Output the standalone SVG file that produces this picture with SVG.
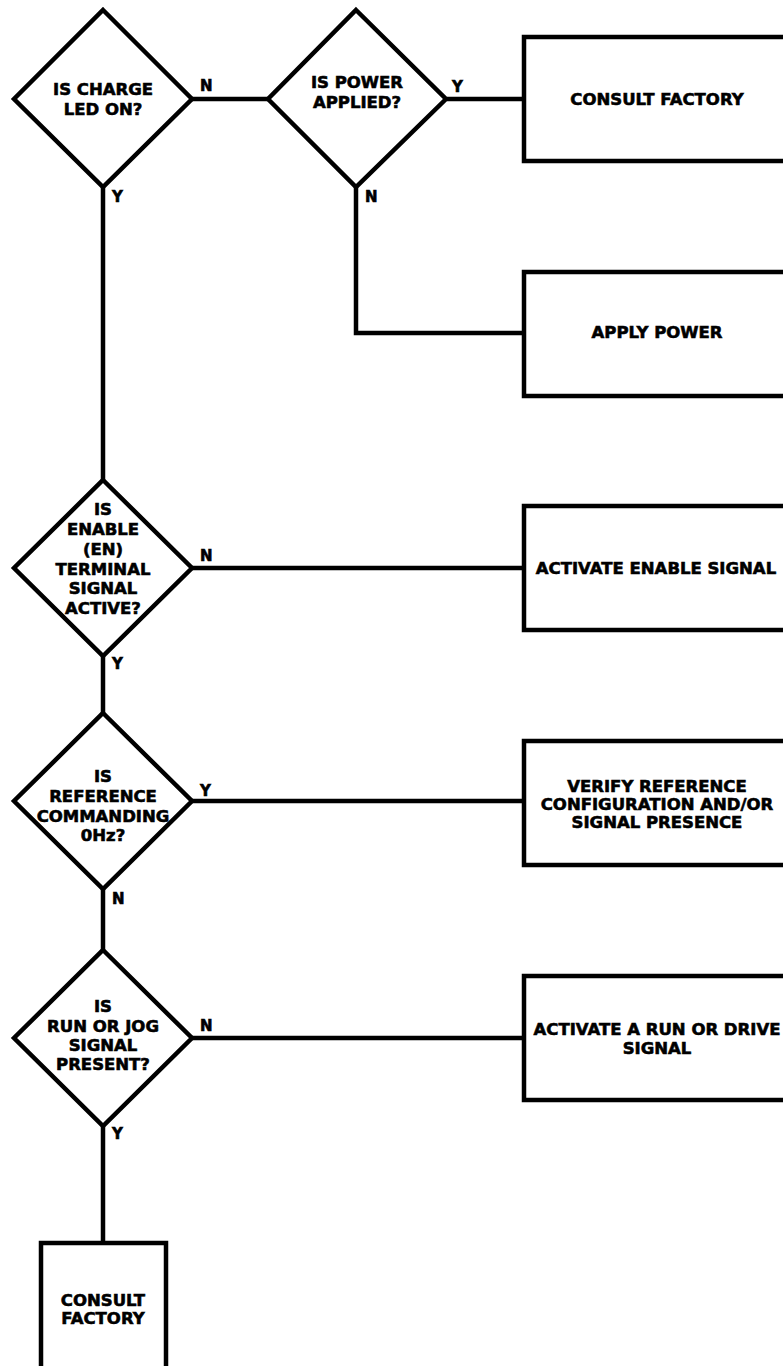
<svg xmlns="http://www.w3.org/2000/svg" width="783" height="1366" viewBox="0 0 783 1366">
<style>
.shape{fill:#fff;stroke:#000;stroke-width:4.5;stroke-linejoin:miter}
.conn{fill:none;stroke:#000;stroke-width:4.5}
.t{font-family:"DejaVu Sans","Liberation Sans",sans-serif;font-weight:bold;font-size:16.5px;fill:#000;stroke:#000;stroke-width:0.6;text-anchor:middle}
.lbl{font-family:"DejaVu Sans","Liberation Sans",sans-serif;font-weight:bold;font-size:15px;fill:#000;stroke:#000;stroke-width:0.6}
</style>
<rect width="783" height="1366" fill="#fff"/>
<g id="connectors">
<line class="conn" x1="192" y1="99" x2="268" y2="99"/>
<line class="conn" x1="447" y1="99" x2="524" y2="99"/>
<polyline class="conn" points="356,187 356,333 524,333"/>
<line class="conn" x1="103" y1="187" x2="103" y2="480"/>
<line class="conn" x1="192" y1="568" x2="524" y2="568"/>
<line class="conn" x1="103" y1="656" x2="103" y2="713"/>
<line class="conn" x1="192" y1="801" x2="524" y2="801"/>
<line class="conn" x1="103" y1="889" x2="103" y2="950"/>
<line class="conn" x1="192" y1="1038" x2="524" y2="1038"/>
<line class="conn" x1="103" y1="1126" x2="103" y2="1243"/>
<text class="lbl" x="200" y="91">N</text>
<text class="lbl" x="112" y="202">Y</text>
<text class="lbl" x="452" y="92">Y</text>
<text class="lbl" x="365" y="202">N</text>
<text class="lbl" x="200" y="561">N</text>
<text class="lbl" x="112" y="669">Y</text>
<text class="lbl" x="200" y="796">Y</text>
<text class="lbl" x="112" y="904">N</text>
<text class="lbl" x="200" y="1031">N</text>
<text class="lbl" x="112" y="1139">Y</text>
</g>
<g id="d1">
<polygon class="shape" points="103,10 192,99 103,187 14,99"/>
<text class="t" x="103" y="95">IS CHARGE</text>
<text class="t" x="103" y="115">LED ON?</text>
</g>
<g id="d2">
<polygon class="shape" points="356,10 446,99 356,187 268,99"/>
<text class="t" x="357" y="88">IS POWER</text>
<text class="t" x="357" y="108">APPLIED?</text>
</g>
<g id="b1">
<rect class="shape" x="524" y="37" width="270" height="124"/>
<text class="t" x="657" y="105">CONSULT FACTORY</text>
</g>
<g id="b2">
<rect class="shape" x="524" y="272" width="270" height="124"/>
<text class="t" x="657" y="338">APPLY POWER</text>
</g>
<g id="d3">
<polygon class="shape" points="103,480 192,568 103,656 14,568"/>
<text class="t" x="103" y="515">IS</text>
<text class="t" x="103" y="535">ENABLE</text>
<text class="t" x="103" y="555">(EN)</text>
<text class="t" x="103" y="575">TERMINAL</text>
<text class="t" x="103" y="594">SIGNAL</text>
<text class="t" x="103" y="614">ACTIVE?</text>
</g>
<g id="b3">
<rect class="shape" x="524" y="506" width="270" height="124"/>
<text class="t" x="656" y="574">ACTIVATE ENABLE SIGNAL</text>
</g>
<g id="d4">
<polygon class="shape" points="103,713 192,801 103,889 14,801"/>
<text class="t" x="103" y="782">IS</text>
<text class="t" x="103" y="802">REFERENCE</text>
<text class="t" x="103" y="822">COMMANDING</text>
<text class="t" x="103" y="841">0Hz?</text>
</g>
<g id="b4">
<rect class="shape" x="524" y="741" width="270" height="124"/>
<text class="t" x="657" y="792">VERIFY REFERENCE</text>
<text class="t" x="657" y="810">CONFIGURATION AND/OR</text>
<text class="t" x="657" y="828">SIGNAL PRESENCE</text>
</g>
<g id="d5">
<polygon class="shape" points="103,950 192,1038 103,1126 14,1038"/>
<text class="t" x="103" y="1012">IS</text>
<text class="t" x="103" y="1032">RUN OR JOG</text>
<text class="t" x="103" y="1051">SIGNAL</text>
<text class="t" x="103" y="1070">PRESENT?</text>
</g>
<g id="b5">
<rect class="shape" x="524" y="976" width="270" height="124"/>
<text class="t" x="657" y="1035">ACTIVATE A RUN OR DRIVE</text>
<text class="t" x="657" y="1054">SIGNAL</text>
</g>
<g id="b6">
<rect class="shape" x="41" y="1243" width="125" height="140"/>
<text class="t" x="103" y="1306">CONSULT</text>
<text class="t" x="103" y="1324">FACTORY</text>
</g>
</svg>
